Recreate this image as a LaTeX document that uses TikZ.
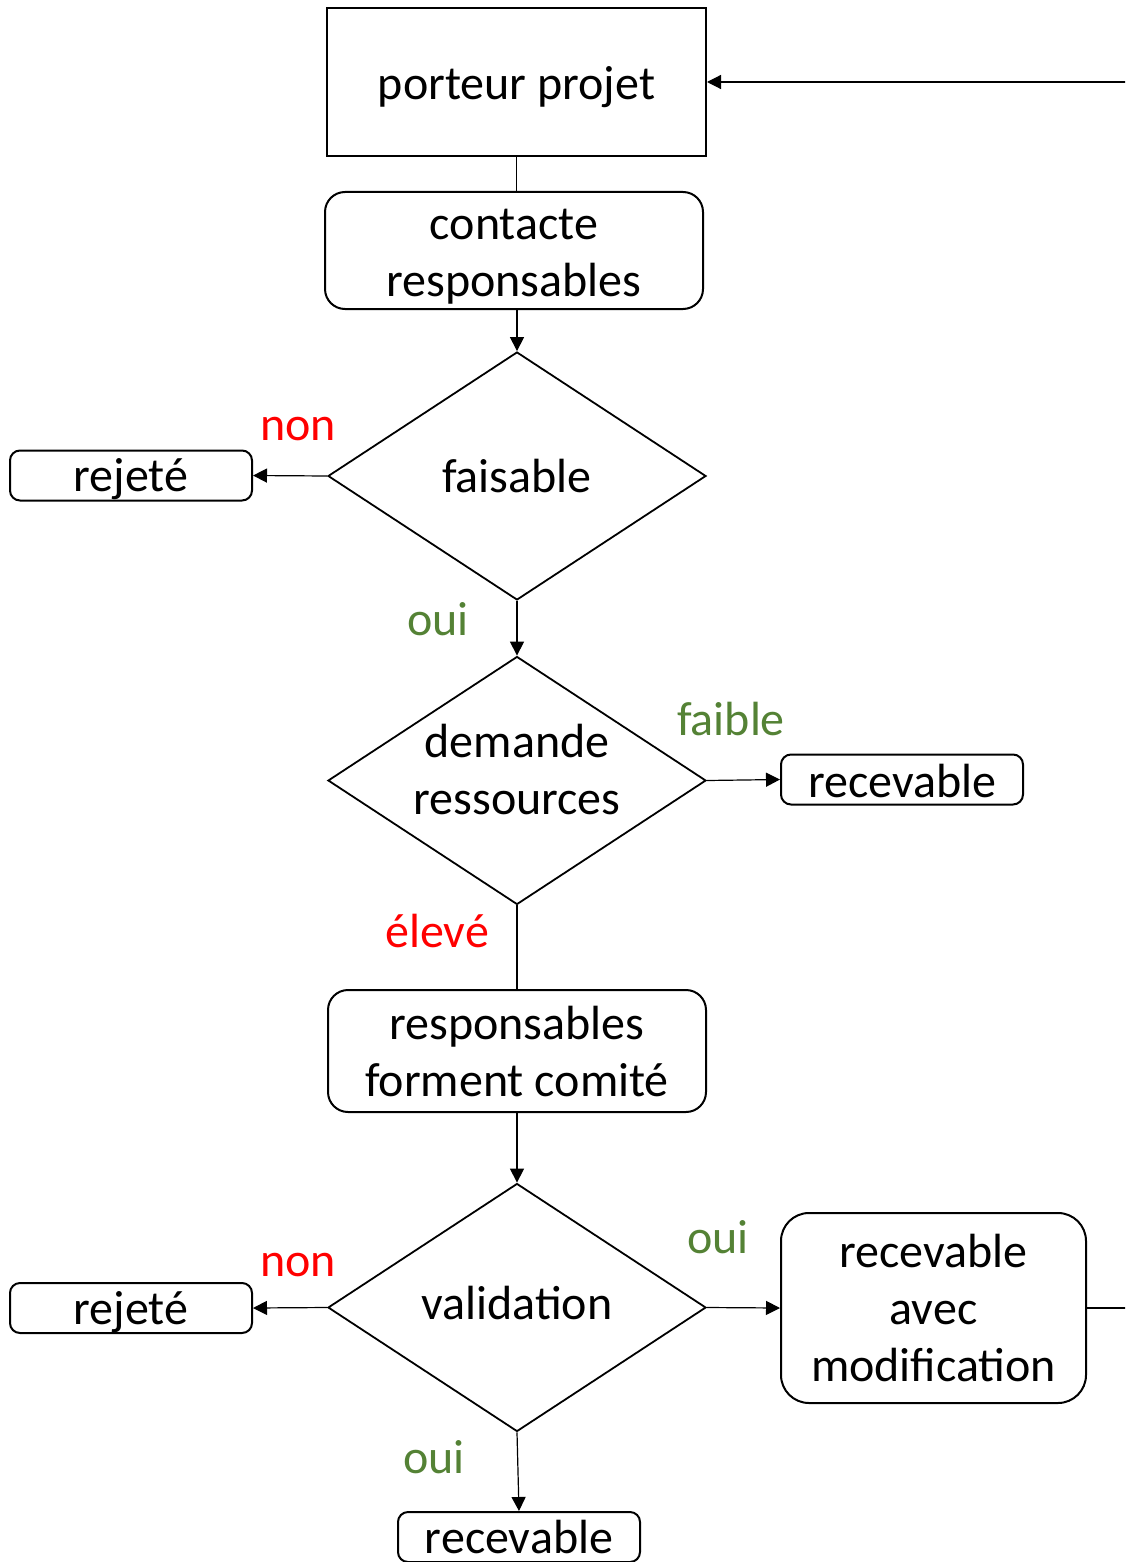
\documentclass[tikz,border=0pt]{standalone}
\usepackage{fontspec}
\setmainfont{Carlito}
\usetikzlibrary{shapes.geometric,arrows.meta}
\definecolor{ouigreen}{RGB}{84,130,53}
\definecolor{nonred}{RGB}{255,0,0}
% lower a text inside its node without changing the node's size
\newcommand\lowered[2]{\raisebox{-#1}[\height][\depth]{#2}}
\begin{document}
\begin{tikzpicture}[x=0.5pt,y=-0.5pt,
  every node/.style={font=\fontsize{24}{28.5}\selectfont, align=center, inner sep=0pt},
  box/.style={draw, line width=1pt},
  rbox/.style={draw, line width=1pt, rounded corners=10pt},
  sbox/.style={draw, line width=1pt, rounded corners=5pt, minimum width=121pt, minimum height=25pt},
  dia/.style={draw, diamond, line width=0.9pt, minimum width=189pt, minimum height=124pt},
  link/.style={line width=0.6pt},
  arr/.style={link, -{Triangle[length=7pt,width=7pt]}},
  yes/.style={text=ouigreen},
  no/.style={text=nonred}]
\clip (0,0) rectangle (1125,1562);
\useasboundingbox (0,0) rectangle (1125,1562);

% project owner and first contact
\node[box, minimum width=189.5pt, minimum height=74pt] (pp) at (516.5,82) {\lowered{2.5pt}{porteur projet}};
\node[rbox, minimum width=189pt, minimum height=58.5pt] (cr) at (514,250.5)
  {\lowered{3pt}{\begin{tabular}{@{}c@{}}contacte\\responsables\end{tabular}}};
\draw[link] (pp.south) -- (pp.south |- cr.north);

% feasibility check
\node[dia] (fa) at (517,476) {};
\node at (fa) {faisable};
\draw[arr] (fa.north |- cr.south) -- (fa.north);
\node[sbox] (rj1) at (131,475.5) {\lowered{2pt}{rejeté}};
\draw[arr] (fa.west) -- (rj1.east);
\node[no] at (298,429.5) {non};

% resource request
\node[dia] (dr) at (517,780.5) {};
\node at (517,770) {demande\\ressources};
\draw[arr] (fa.south) -- (dr.north);
\node[yes] at (438,619) {oui};
\node[sbox] (rc1) at (902,779.5) {\lowered{1pt}{recevable}};
\draw[arr] (dr.east) -- (rc1.west);
\node[yes] at (731,719) {faible};

% committee
\node[rbox, minimum width=189pt, minimum height=61pt] (rf) at (517,1051) {responsables\\forment comité};
\draw[link] (dr.south) -- (rf.north);
\node[no] at (437,931) {élevé};

% validation
\node[dia] (va) at (517,1307.5) {};
\node at (517,1303) {validation};
\draw[arr] (rf.south) -- (va.north);
\node[sbox] (rj2) at (131,1308) {\lowered{2pt}{rejeté}};
\draw[arr] (va.west) -- (rj2.east);
\node[no] at (298,1265.5) {non};
\node[rbox, rounded corners=14pt, minimum width=152.5pt, minimum height=95pt] (rm) at (933.5,1308) {recevable\\avec\\modification};
\draw[arr] (va.east) -- (rm.west);
\node[yes] at (718,1237) {oui};
\node[sbox] (rc2) at (519,1537) {recevable};
\draw[arr] (va.south) -- (rc2.north);
\node[yes] at (434,1457) {oui};

% loop back to the project owner
\coordinate (fb) at (1140,1308);
\draw[arr] (rm.east) -- (fb) |- (pp.east);
\end{tikzpicture}
\end{document}
